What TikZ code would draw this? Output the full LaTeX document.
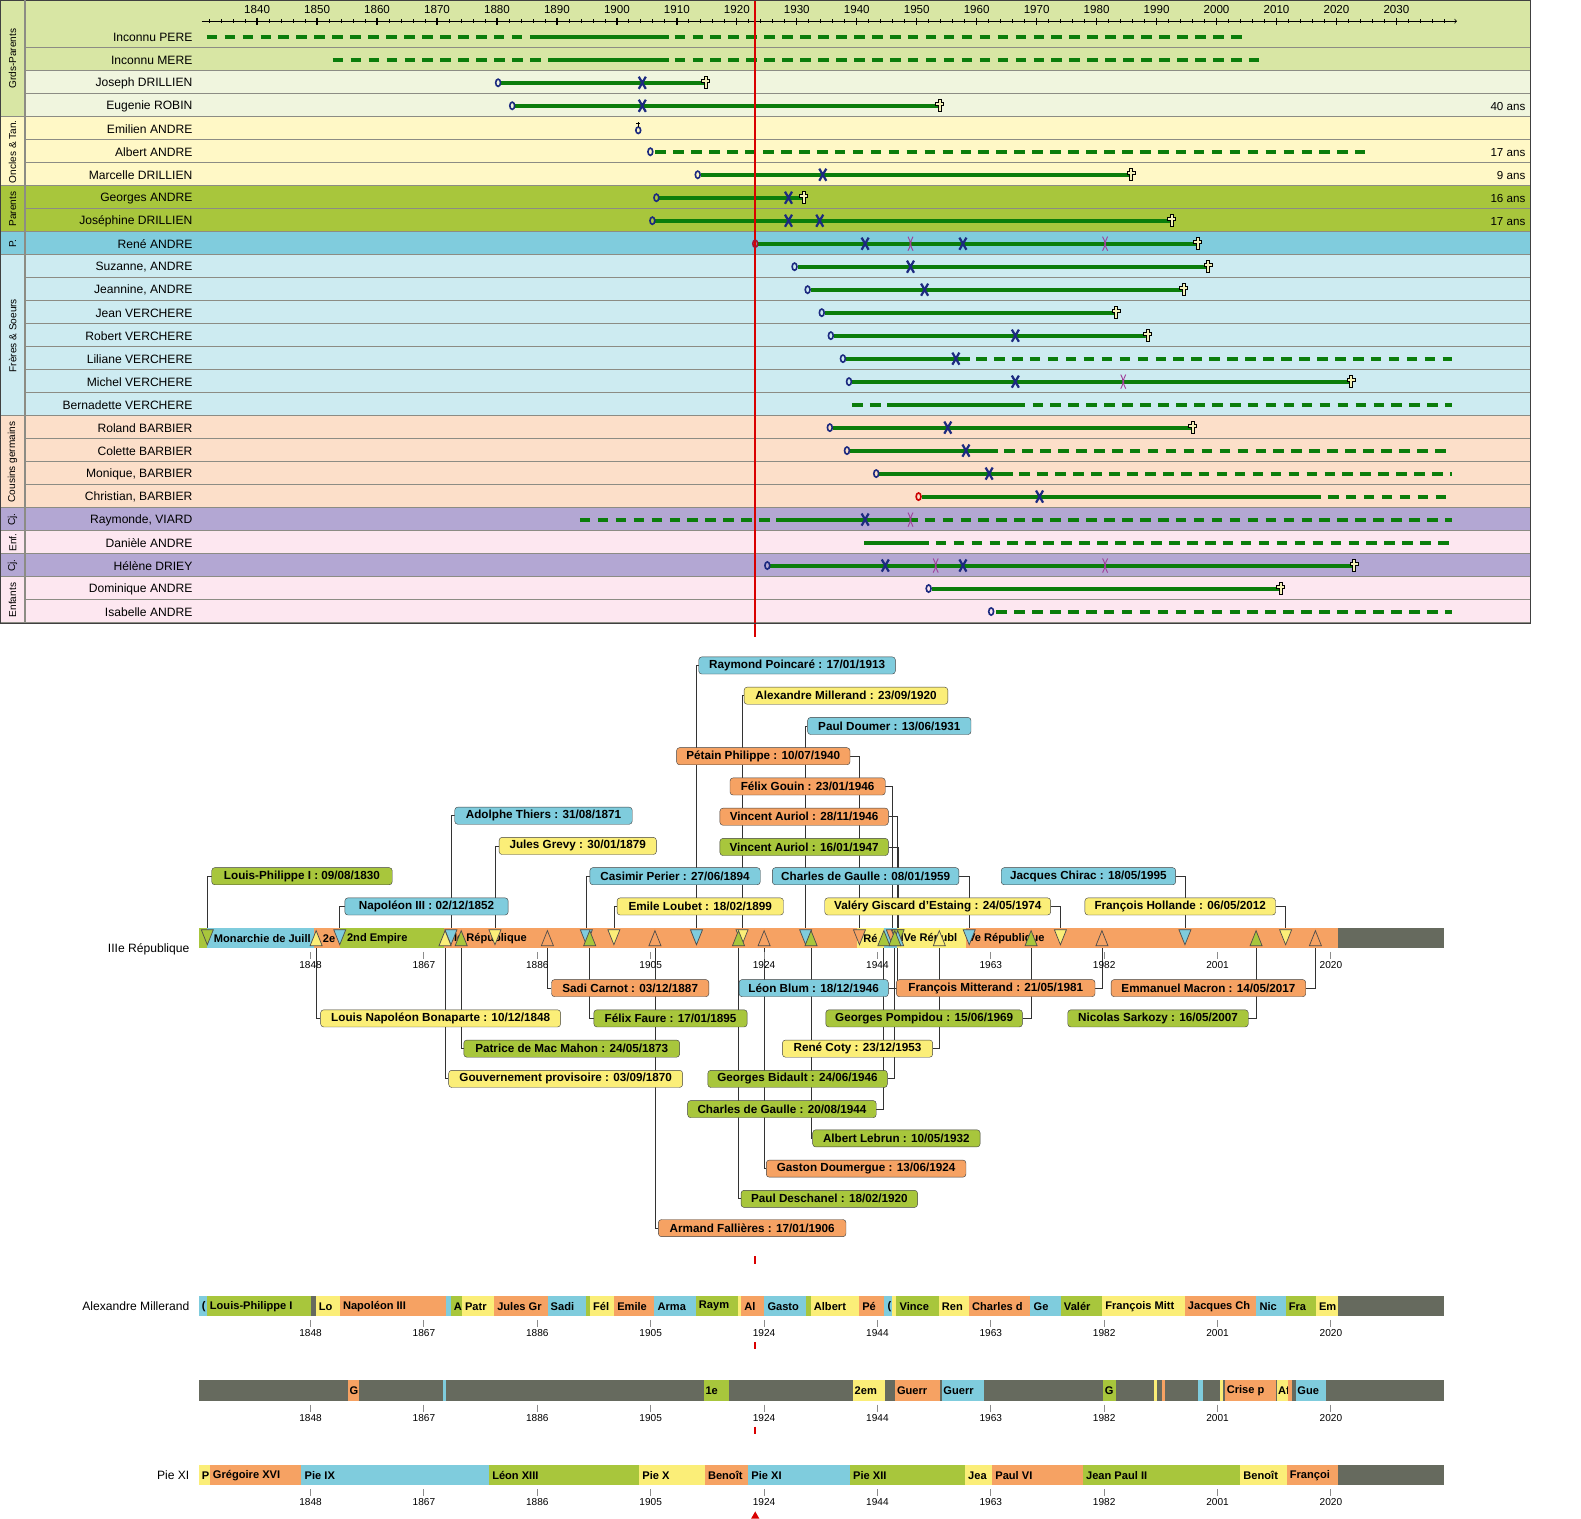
\documentclass[tikz,border=0pt]{standalone}
\usepackage{fontspec}
\setmainfont{Liberation Sans}
\pgfdeclarelayer{bg}
\pgfsetlayers{bg,main}

\definecolor{cBlue}{HTML}{7FCCDD}
\definecolor{cOlive}{HTML}{A8C63C}
\definecolor{cYellow}{HTML}{FBEE78}
\definecolor{cOrange}{HTML}{F6A263}
\definecolor{cGrey}{HTML}{666A5E}
\definecolor{rGp}{HTML}{D8E6A4}
\definecolor{rGpb}{HTML}{F0F5DE}
\definecolor{rOnc}{HTML}{FFF8C6}
\definecolor{rPar}{HTML}{A8C63C}
\definecolor{rP}{HTML}{80CCDD}
\definecolor{rFr}{HTML}{CDEBF1}
\definecolor{rCou}{HTML}{FCDFC9}
\definecolor{rCj}{HTML}{B3A7D3}
\definecolor{rEnf}{HTML}{FDE7F0}
\definecolor{lifeG}{HTML}{0B7D0B}
\definecolor{markN}{HTML}{1C2A80}
\definecolor{divP}{HTML}{A0409A}
\definecolor{sepG}{HTML}{8C8C84}
\definecolor{crossY}{HTML}{F4F1B8}

% row helpers (row 0 = Inconnu PERE)
\newcommand\rowy[1]{\pgfmathsetmacro\rowY{36.5+22.8*#1}}
\newcommand\lifeS[3]{\rowy{#1}\draw[lifeline] (#2,\rowY) -- (#3,\rowY);}
\newcommand\lifeD[3]{\rowy{#1}\draw[lifedash] (#2,\rowY) -- (#3,\rowY);}
\newcommand\mkBirth[3][markN]{\rowy{#2}\draw[birthmk,#1] (#3,\rowY) ellipse [x radius=2.4, y radius=3.6];}
\newcommand\mkWed[2]{\rowy{#1}\draw[wedmk] (#2-3.5,\rowY-6) -- (#2+3.5,\rowY+6) (#2-3.5,\rowY+6) -- (#2+3.5,\rowY-6);}
\newcommand\mkDiv[2]{\rowy{#1}\draw[divmk] (#2-2.5,\rowY-7) .. controls (#2+0.5,\rowY-2) and (#2+0.5,\rowY+2) .. (#2-2.5,\rowY+7)
  (#2+2.5,\rowY-7) .. controls (#2-0.5,\rowY-2) and (#2-0.5,\rowY+2) .. (#2+2.5,\rowY+7);}
\newcommand\mkDeath[2]{\rowy{#1}\draw[deathmk] (#2-1.5,\rowY+6) -- (#2+1.5,\rowY+6) -- (#2+1.5,\rowY-0.5) -- (#2+4,\rowY-0.5)
  -- (#2+4,\rowY-3.5) -- (#2+1.5,\rowY-3.5) -- (#2+1.5,\rowY-6) -- (#2-1.5,\rowY-6) -- (#2-1.5,\rowY-3.5) -- (#2-4,\rowY-3.5)
  -- (#2-4,\rowY-0.5) -- (#2-1.5,\rowY-0.5) -- cycle;}
\newcommand\mkStill[2]{\rowy{#1}\draw[birthmk] (#2,\rowY+1.5) ellipse [x radius=2.4, y radius=3.2];
  \draw[black,line width=1.2pt] (#2,\rowY-1.7) -- (#2,\rowY-7) (#2-2.2,\rowY-5) -- (#2+2.2,\rowY-5);}
% ticks under a bar: #1 = bottom of the bar, #2 = prefix of names
\newcommand\barticks[2]{\foreach \i/\lab in {0/1848,1/1867,2/1886,3/1905,4/1924,5/1944,6/1963,7/1982,8/2001,9/2020}{
  \pgfmathsetmacro\xT{308+112.44*\i}
  \draw[tick] (\xT,#1+4) -- (\xT,#1+11);
  \node[ticklbl] (#2\i) at (\xT,#1+17) {\lab};}}

\begin{document}
\begin{tikzpicture}[x=1pt,y=-1pt,
    rowname/.style={anchor=east,inner sep=0pt,font=\fontsize{12}{12}\selectfont},
    grp/.style={rotate=90,inner sep=0pt,font=\fontsize{10}{10}\selectfont},
    yrlbl/.style={inner sep=0pt,font=\fontsize{11.5}{12}\selectfont},
    anslbl/.style={anchor=east,inner sep=0pt,font=\fontsize{11.5}{12}\selectfont},
    rowsep/.style={sepG,line width=1.6pt},
    lifeline/.style={lifeG,line width=4pt},
    lifedash/.style={lifeG,line width=4pt,dash pattern=on 10.5pt off 7.3pt},
    birthmk/.style={markN,line width=1.6pt},
    wedmk/.style={markN,line width=2.2pt},
    deathmk/.style={fill=crossY,draw=black,line width=0.8pt},
    divmk/.style={divP,line width=0.9pt},
    evbox/.style={draw=black!75,rounded corners=3pt,minimum height=17pt,inner sep=1.5pt,font=\fontsize{11.6}{12}\selectfont\bfseries},
    leader/.style={black!80,line width=0.8pt},
    trimk/.style={draw=black!70,line width=0.7pt},
    bartxt/.style={anchor=west,inner sep=0pt,font=\fontsize{11}{11}\selectfont\bfseries},
    barname/.style={anchor=east,inner sep=0pt,font=\fontsize{12}{12}\selectfont},
    tick/.style={black!45,line width=1pt},
    ticklbl/.style={inner sep=0pt,font=\fontsize{10}{10}\selectfont},
    redmk/.style={red!85!black,line width=1.6pt}]
\useasboundingbox (0,0) rectangle (1568,1506);
\begin{pgfonlayer}{bg}
  \fill[white] (0,0) rectangle (1568,1506);
\end{pgfonlayer}

% rows of the family chart
\foreach \k/\col/\nm in {0/rGp/{Inconnu PERE},1/rGp/{Inconnu MERE},2/rGpb/{Joseph DRILLIEN},3/rGpb/{Eugenie ROBIN},
    4/rOnc/{Emilien ANDRE},5/rOnc/{Albert ANDRE},6/rOnc/{Marcelle DRILLIEN},7/rPar/{Georges ANDRE},
    8/rPar/{Joséphine DRILLIEN},9/rP/{René ANDRE},10/rFr/{Suzanne, ANDRE},11/rFr/{Jeannine, ANDRE},
    12/rFr/{Jean VERCHERE},13/rFr/{Robert VERCHERE},14/rFr/{Liliane VERCHERE},15/rFr/{Michel VERCHERE},
    16/rFr/{Bernadette VERCHERE},17/rCou/{Roland BARBIER},18/rCou/{Colette BARBIER},19/rCou/{Monique, BARBIER},
    20/rCou/{Christian, BARBIER},21/rCj/{Raymonde, VIARD},22/rEnf/{Danièle ANDRE},23/rCj/{Hélène DRIEY},
    24/rEnf/{Dominique ANDRE},25/rEnf/{Isabelle ANDRE}}{
  \pgfmathsetmacro\yT{\k==0 ? 0 : 25.1+22.8*\k}
  \pgfmathsetmacro\yB{47.9+22.8*\k}
  \fill[\col] (25,\yT) rectangle (1518,\yB);
  \draw[rowsep] (25,\yB) -- (1518,\yB);
  \node[rowname] (n\k) at (191,{37+22.8*\k}) {\nm};
}
% groups
\foreach \ya/\yb/\col/\txt [count=\i] in {0/116.3/rGp/{Grds-Parents},116.3/184.7/rOnc/{Oncles \& Tan.},
    184.7/230.3/rPar/{Parents},230.3/253.1/rP/{P.},253.1/412.7/rFr/{Frères \& Soeurs},
    412.7/503.9/rCou/{Cousins germains},503.9/526.7/rCj/{Cj.},526.7/549.5/rEnf/{Enf.},
    549.5/572.3/rCj/{Cj.},572.3/617.9/rEnf/{Enfants}}{
  \fill[\col] (0,\ya) rectangle (25,\yb);
  \draw[rowsep] (0,\yb) -- (25,\yb);
  \node[grp] (g\i) at (12.5,{(\ya+\yb)/2}) {\txt};
}

% time axis
\draw[->,line width=0.8pt] (200,21) -- (1445,21);
\foreach \yr in {1832,1834,...,2038}{
  \pgfmathsetmacro\xT{255+5.947*(\yr-1840)}
  \draw[line width=0.8pt] (\xT,19.3) -- (\xT,22.7);
}
\foreach \yr in {1840,1850,...,2030}{
  \pgfmathsetmacro\xT{255+5.947*(\yr-1840)}
  \draw[line width=1.3pt] (\xT,17.5) -- (\xT,24.5);
  \node[yrlbl] (ax\yr) at (\xT,9.5) {\yr};
}

% lifelines
\lifeD{0}{205}{527} \lifeS{0}{527}{663} \lifeD{0}{669}{1234}
\lifeD{1}{330}{545} \lifeS{1}{545}{663} \lifeD{1}{669}{1252}
\lifeS{2}{497}{700}
\lifeS{3}{511}{932}
\lifeD{5}{650}{1354}
\lifeS{6}{695}{1122}
\lifeS{7}{654}{797}
\lifeS{8}{650}{1162}
\lifeS{9}{752}{1188}
\lifeS{10}{791}{1198}
\lifeS{11}{804}{1174}
\lifeS{12}{818}{1107}
\lifeS{13}{827}{1138}
\lifeS{14}{839}{962} \lifeD{14}{968}{1440}
\lifeS{15}{845}{1340}
\lifeD{16}{845}{880} \lifeS{16}{880}{1017} \lifeD{16}{1024}{1440}
\lifeS{17}{826}{1183}
\lifeS{18}{843}{990} \lifeD{18}{996}{1435}
\lifeS{19}{872}{1005} \lifeD{19}{1011}{1440}
\lifeS{20}{914}{1310} \lifeD{20}{1317}{1435}
\lifeD{21}{575}{770} \lifeS{21}{770}{910} \lifeD{21}{917}{1440}
\lifeS{22}{857}{921} \lifeD{22}{928}{1440}
\lifeS{23}{764}{1343}
\lifeS{24}{924}{1270}
\lifeD{25}{988}{1440}

% date line
\draw[redmk] (749,0) -- (749,632);

% births, weddings, divorces, deaths
\mkBirth{2}{494} \mkWed{2}{637} \mkDeath{2}{700}
\mkBirth{3}{508} \mkWed{3}{637} \mkDeath{3}{932}
\mkStill{4}{633}
\mkBirth{5}{645}
\mkBirth{6}{692} \mkWed{6}{816} \mkDeath{6}{1122}
\mkBirth{7}{651} \mkWed{7}{782} \mkDeath{7}{797}
\mkBirth{8}{647} \mkWed{8}{782} \mkWed{8}{813} \mkDeath{8}{1162}
\mkBirth[red!60!markN]{9}{749} \mkWed{9}{858} \mkDiv{9}{903} \mkWed{9}{955} \mkDiv{9}{1096} \mkDeath{9}{1188}
\mkBirth{10}{788} \mkWed{10}{903} \mkDeath{10}{1198}
\mkBirth{11}{801} \mkWed{11}{917} \mkDeath{11}{1174}
\mkBirth{12}{815} \mkDeath{12}{1107}
\mkBirth{13}{824} \mkWed{13}{1007} \mkDeath{13}{1138}
\mkBirth{14}{836} \mkWed{14}{948}
\mkBirth{15}{842} \mkWed{15}{1007} \mkDiv{15}{1114} \mkDeath{15}{1340}
\mkBirth{17}{823} \mkWed{17}{940} \mkDeath{17}{1183}
\mkBirth{18}{840} \mkWed{18}{958}
\mkBirth{19}{869} \mkWed{19}{981}
\mkBirth[red!80!black]{20}{911} \mkWed{20}{1031}
\mkWed{21}{858} \mkDiv{21}{903}
\mkBirth{23}{761} \mkWed{23}{878} \mkDiv{23}{928} \mkWed{23}{955} \mkDiv{23}{1096} \mkDeath{23}{1343}
\mkBirth{24}{921} \mkDeath{24}{1270}
\mkBirth{25}{983}

% ages
\foreach \k/\txt in {3/40 ans,5/17 ans,6/9 ans,7/16 ans,8/17 ans}
  \node[anslbl] (age\k) at (1513,{37+22.8*\k}) {\txt};

\draw[black!75,line width=1pt] (0,0) rectangle (1518,617.9);
\draw[sepG,line width=1.6pt] (25,0) -- (25,617.9);

% regimes bar
\node[barname] (lbl1) at (188,941) {IIIe République};
\foreach \a/\b/\col/\tx/\txt [count=\i] in {197/205/cOlive/200/{},205/311/cBlue/212/{Monarchie de Juill},
    311/337/cOrange/320/{2e},337/440/cOlive/344/{2nd Empire},440/850/cOrange/444/{IIIe République},
    850/877/cYellow/856/{Ré},877/890/cBlue/880/{},890/958/cYellow/893/{IVe Républ},
    958/1327/cOrange/960/{Ve République},1327/1432/cGrey/1330/{}}{
  \fill[\col] (\a,920) rectangle (\b,940);
  \node[bartxt] (r\i) at (\tx,930.5) {\txt};
}
\barticks{940}{ra}

% events above the bar
\foreach \n/\yr/\xl/\xr/\yy/\col/\sd/\txt in {
    1/1913.05/693/888/660/cBlue/west/{Raymond Poincaré : 17/01/1913},
    2/1920.73/738/940/690/cYellow/west/{Alexandre Millerand : 23/09/1920},
    3/1931.45/801/963/720/cBlue/west/{Paul Doumer : 13/06/1931},
    4/1940.52/671/843/750/cOrange/east/{Pétain Philippe : 10/07/1940},
    5/1946.06/724/878/780/cOrange/east/{Félix Gouin : 23/01/1946},
    6/1946.91/714/881/810/cOrange/east/{Vincent Auriol : 28/11/1946},
    7/1947.04/714/881/840/cOlive/east/{Vincent Auriol : 16/01/1947},
    8/1959.02/766/951/869/cBlue/east/{Charles de Gaulle : 08/01/1959},
    9/1974.39/818/1042/899/cYellow/east/{Valéry Giscard d'Estaing : 24/05/1974},
    10/1995.38/993/1166/869/cBlue/east/{Jacques Chirac : 18/05/1995},
    11/2012.35/1076/1265/899/cYellow/east/{François Hollande : 06/05/2012},
    12/1871.66/451/627/809/cBlue/west/{Adolphe Thiers : 31/08/1871},
    13/1879.08/495/651/839/cYellow/west/{Jules Grevy : 30/01/1879},
    14/1830.6/210/389/869/cOlive/west/{Louis-Philippe I : 09/08/1830},
    15/1852.92/342/504/899/cBlue/west/{Napoléon III : 02/12/1852},
    16/1894.49/585/754/869/cBlue/west/{Casimir Perier : 27/06/1894},
    17/1899.13/612/777/899/cYellow/west/{Emile Loubet : 18/02/1899}}{
  \pgfmathsetmacro\xT{308+5.884*(\yr-1848)}
  \coordinate (ta\n) at (\xT,921);
  \filldraw[trimk,fill=\col] (\xT-6,922) -- (\xT+6,922) -- (\xT,937) -- cycle;
  \node[evbox,fill=\col,minimum width={\xr-\xl}] (ba\n) at ({(\xl+\xr)/2},\yy) {\txt};
  \begin{pgfonlayer}{bg}
    \draw[leader] (ba\n.\sd) -| (ta\n);
  \end{pgfonlayer}
}
% events below the bar
\foreach \n/\yr/\xl/\xr/\yy/\col/\sd/\txt in {
    1/1887.92/547/703/980/cOrange/west/{Sadi Carnot : 03/12/1887},
    2/1946.96/733/881/980/cBlue/east/{Léon Blum : 18/12/1946},
    3/1981.39/889/1086/980/cOrange/east/{François Mitterand : 21/05/1981},
    4/2017.37/1102/1295/980/cOrange/east/{Emmanuel Macron : 14/05/2017},
    5/1848.94/318/556/1010/cYellow/west/{Louis Napoléon Bonaparte : 10/12/1848},
    6/1895.05/589/741/1010/cOlive/west/{Félix Faure : 17/01/1895},
    7/1969.45/819/1014/1010/cOlive/east/{Georges Pompidou : 15/06/1969},
    8/2007.37/1059/1238/1010/cOlive/east/{Nicolas Sarkozy : 16/05/2007},
    9/1873.39/460/674/1040/cOlive/west/{Patrice de Mac Mahon : 24/05/1873},
    10/1953.98/776/925/1040/cYellow/east/{René Coty : 23/12/1953},
    11/1870.67/445/677/1070/cYellow/west/{Gouvernement provisoire : 03/09/1870},
    12/1946.48/702/880/1070/cOlive/east/{Georges Bidault : 24/06/1946},
    13/1944.63/682/869/1100/cOlive/east/{Charles de Gaulle : 20/08/1944},
    14/1932.36/806/972/1129/cOlive/west/{Albert Lebrun : 10/05/1932},
    15/1924.45/760/958/1159/cOrange/west/{Gaston Doumergue : 13/06/1924},
    16/1920.13/735/910/1189/cOlive/west/{Paul Deschanel : 18/02/1920},
    17/1906.05/653/839/1218/cOrange/west/{Armand Fallières : 17/01/1906}}{
  \pgfmathsetmacro\xT{308+5.884*(\yr-1848)}
  \coordinate (tb\n) at (\xT,939);
  \filldraw[trimk,fill=\col] (\xT-6,938) -- (\xT+6,938) -- (\xT,923) -- cycle;
  \node[evbox,fill=\col,minimum width={\xr-\xl}] (bb\n) at ({(\xl+\xr)/2},\yy) {\txt};
  \begin{pgfonlayer}{bg}
    \draw[leader] (tb\n) |- (bb\n.\sd);
  \end{pgfonlayer}
}
\draw[redmk] (749,1246) -- (749,1254);

% heads of state bar
\node[barname] (lbl2) at (188,1295) {Alexandre Millerand};
\foreach \a/\b/\col/\txt [count=\i] in {197/205/cBlue/{(},205/308/cOlive/{Louis-Philippe I},308/313/cGrey/{},
    313/337/cYellow/{Lo},337/442/cOrange/{Napoléon III},442/447/cBlue/{},447/458/cOlive/{A},458/490/cYellow/{Patr},
    490/543/cOrange/{Jules Gr},543/581/cBlue/{Sadi},581/585/cOlive/{},585/609/cYellow/{Fél},609/649/cOrange/{Emile},
    649/690/cBlue/{Arma},690/732/cOlive/{Raym},732/735/cYellow/{},735/758/cOrange/{Al},758/799/cBlue/{Gasto},
    799/804/cOlive/{},804/852/cYellow/{Albert},852/877/cOrange/{Pé},877/885/cBlue/{(},885/889/cYellow/{},
    889/931/cOlive/{Vince},931/961/cYellow/{Ren},961/1022/cOrange/{Charles d},1022/1052/cBlue/{Ge},
    1052/1093/cOlive/{Valér},1093/1175/cYellow/{François Mitt},1175/1246/cOrange/{Jacques Ch},
    1246/1275/cBlue/{Nic},1275/1305/cOlive/{Fra},1305/1327/cYellow/{Em},1327/1432/cGrey/{}}{
  \fill[\col] (\a,1285) rectangle (\b,1305);
  \node[bartxt] (p\i) at (\a+3,1295.5) {\txt};
}
\barticks{1305}{pa}
\draw[redmk] (749,1331) -- (749,1338);

% wars bar
\fill[cGrey] (197,1369) rectangle (1432,1389);
\foreach \a/\b/\col/\txt [count=\i] in {345/356/cOrange/{G},439/442/cBlue/{},698/723/cOlive/{1e},846/878/cYellow/{2em},
    888/932/cOrange/{Guerr},934/976/cBlue/{Guerr},1094/1107/cOlive/{G},1144/1147/cYellow/{},1152/1155/cOrange/{},
    1188/1193/cBlue/{},1210/1213/cYellow/{},1215/1265/cOrange/{Crise p},1266/1277/cYellow/{Af},
    1277/1281/cOrange/{},1285/1315/cBlue/{Gue}}{
  \fill[\col] (\a,1369) rectangle (\b,1389);
  \node[bartxt] (w\i) at (\a+1.5,1379.5) {\txt};
}
\barticks{1389}{wa}
\draw[redmk] (749,1415) -- (749,1422);

% popes bar
\node[barname] (lbl4) at (188,1463) {Pie XI};
\foreach \a/\b/\col/\txt [count=\i] in {197/208/cYellow/{P},208/299/cOrange/{Grégoire XVI},299/485/cBlue/{Pie IX},
    485/634/cOlive/{Léon XIII},634/699/cYellow/{Pie X},699/742/cOrange/{Benoît},742/843/cBlue/{Pie XI},
    843/957/cOlive/{Pie XII},957/984/cYellow/{Jea},984/1074/cOrange/{Paul VI},1074/1230/cOlive/{Jean Paul II},
    1230/1276/cYellow/{Benoît},1276/1327/cOrange/{Françoi},1327/1432/cGrey/{}}{
  \fill[\col] (\a,1453) rectangle (\b,1473);
  \node[bartxt] (q\i) at (\a+3,1463.5) {\txt};
}
\barticks{1473}{qa}
\fill[red!85!black] (745,1506) -- (753,1506) -- (749,1499) -- cycle;
\end{tikzpicture}
\end{document}
